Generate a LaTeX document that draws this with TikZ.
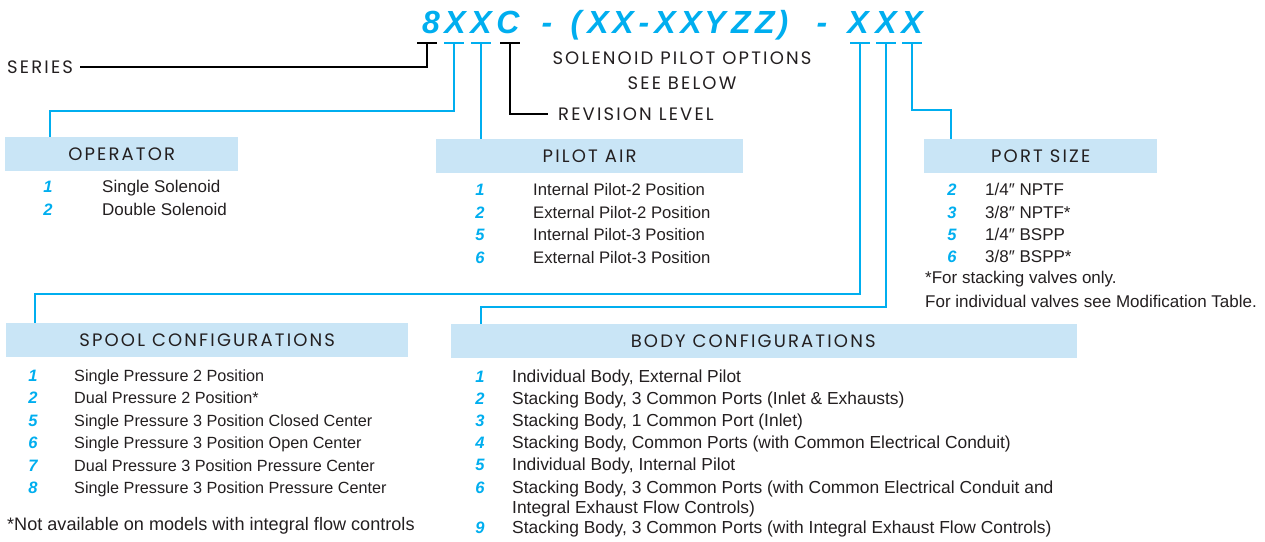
\documentclass[tikz,border=0pt]{standalone}
\usepackage{fontspec}
\setmainfont{Liberation Sans}
\newfontfamily\headfont{Poppins}[LetterSpace=12]
\definecolor{codeblue}{HTML}{00AEEF}
\definecolor{boxblue}{HTML}{C9E5F6}
\definecolor{inkgray}{HTML}{231F20}
\begin{document}
\begin{tikzpicture}[x=1pt, y=-1pt, every node/.style={inner sep=0pt, text=inkgray},
	headbox/.style={fill=boxblue, anchor=north west, minimum height=34pt, font=\headfont\fontsize{18}{20}\selectfont},
	headtext/.style={font=\headfont\fontsize{18}{25}\selectfont},
	num/.style={anchor=base, text=codeblue, font=\bfseries\itshape\fontsize{16.5}{18}\selectfont},
	item/.style={anchor=base west, font=\fontsize{#1}{18}\selectfont},
	item/.default=16.2,
	code/.style={anchor=base, text=codeblue, font=\bfseries\itshape\fontsize{32}{34}\selectfont},
	lead/.style={line width=2.4pt, codeblue},
	blacklead/.style={line width=2.2pt, black}]
		\useasboundingbox (0,0) rectangle (1265,541);
		% \draw[help lines, step=50] (0,0) grid (1265,541);

		% model code
		\foreach \x/\ch [count=\i] in {431/8, 455/X, 481/X, 508/C, 547/-, 576/(, 598/X, 623/X, 644/-, 665/X, 691/X, 715/Y, 741/Z, 765/Z, 783/), 822/-, 858/X, 886/X, 912/X}
			\node[code] (ch\i) at (\x,33) {\ch};

		\foreach \i/\x/\c in {1/427/black, 2/454/codeblue, 3/481/codeblue, 4/510/black, 5/860/codeblue, 6/886/codeblue, 7/912/codeblue} {
			\coordinate (t\i) at (\x,43);
			\draw[line width=2.4pt, \c] ([xshift=-10pt]t\i) -- ([xshift=10pt]t\i);
		}

		\node[headtext, anchor=base west] (series) at (7,73) {SERIES};
		\node[headtext, anchor=base, align=center] (solenoid) at (682,89) {SOLENOID PILOT OPTIONS\\SEE BELOW};
		\node[headtext, anchor=base west] (rev) at (558,120) {REVISION LEVEL};

		% heading boxes
		\node[headbox, minimum width=233pt] (op) at (5,137) {OPERATOR};
		\node[headbox, minimum width=307pt] (pa) at (436,139) {PILOT AIR};
		\node[headbox, minimum width=233pt] (ps) at (924,139) {PORT SIZE};
		\node[headbox, minimum width=402pt] (sp) at (6,323) {SPOOL CONFIGURATIONS};
		\node[headbox, minimum width=626pt] (bc) at (451,324) {\hspace*{-22pt}BODY CONFIGURATIONS};

		% leaders
		\draw[blacklead] (t1) |- ([xshift=7pt]series.east);
		\draw[lead] (t2) -- ++(0,68) -| ([xshift=45pt]op.north west);
		\draw[lead] (t3) -- (t3 |- pa.north);
		\draw[blacklead] (t4) |- ([xshift=-10pt]rev.west);
		\draw[lead] (t5) -- ++(0,251) -| ([xshift=29pt]sp.north west);
		\draw[lead] (t6) -- ++(0,264) -| ([xshift=30pt]bc.north west);
		\draw[lead] (t7) -- ++(0,67) -| ([xshift=27pt]ps.north west);

		% option lists
		\foreach \n/\y/\t in {1/192/Single Solenoid, 2/215/Double Solenoid} {
			\node[num] (opn\n) at (48,\y) {\n};
			\node[item=17] (opt\n) at (102,\y) {\t};
		}
		\foreach \n/\y/\t in {1/195/Internal Pilot-2 Position, 2/218/External Pilot-2 Position, 5/240/Internal Pilot-3 Position, 6/263/External Pilot-3 Position} {
			\node[num] (pan\n) at (480,\y) {\n};
			\node[item=16.7] (pat\n) at (533,\y) {\t};
		}
		\foreach \n/\y/\t in {2/195/{1/4″ NPTF}, 3/218/{3/8″ NPTF*}, 5/240/{1/4″ BSPP}, 6/262/{3/8″ BSPP*}} {
			\node[num] (psn\n) at (952,\y) {\n};
			\node[item=17] (pst\n) at (985,\y) {\t};
		}
		\node[item=17] (psnote1) at (925,283) {*For stacking valves only.};
		\node[item=17] (psnote2) at (925,307) {For individual valves see Modification Table.};

		\foreach \n/\y/\t in {1/381/Single Pressure 2 Position, 2/403/Dual Pressure 2 Position*, 5/426/Single Pressure 3 Position Closed Center, 6/448/Single Pressure 3 Position Open Center, 7/471/Dual Pressure 3 Position Pressure Center, 8/493/Single Pressure 3 Position Pressure Center} {
			\node[num] (spn\n) at (33,\y) {\n};
			\node[item] (spt\n) at (74,\y) {\t};
		}
		\node[item=18.1] (spnote) at (7,530) {*Not available on models with integral flow controls};

		\foreach \n/\y/\t in {1/382/{Individual Body, External Pilot}, 2/404/{Stacking Body, 3 Common Ports (Inlet \& Exhausts)}, 3/426/{Stacking Body, 1 Common Port (Inlet)}, 4/448/{Stacking Body, Common Ports (with Common Electrical Conduit)}, 5/470/{Individual Body, Internal Pilot}, 6/493/{Stacking Body, 3 Common Ports (with Common Electrical Conduit and}, 9/533/{Stacking Body, 3 Common Ports (with Integral Exhaust Flow Controls)}} {
			\node[num] (bcn\n) at (480,\y) {\n};
			\node[item=17.4] (bct\n) at (512,\y) {\t};
		}
		\node[item=17.4] (bct6b) at (512,513) {Integral Exhaust Flow Controls)};
	\end{tikzpicture}
\end{document}
